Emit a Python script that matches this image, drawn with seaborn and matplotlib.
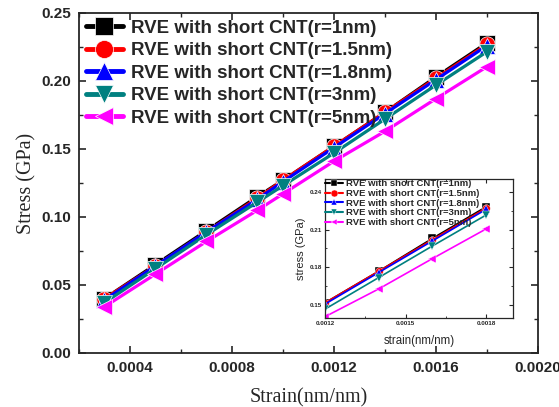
import numpy as np
import pandas as pd
import seaborn as sns
import matplotlib
matplotlib.use("Agg")
import matplotlib.pyplot as plt
from matplotlib.ticker import FixedLocator

# %% data
strain = [0.0003, 0.0005, 0.0007, 0.0009, 0.0010, 0.0012, 0.0014, 0.0016, 0.0018]
labels = ["RVE with short CNT(r=1nm)", "RVE with short CNT(r=1.5nm)",
          "RVE with short CNT(r=1.8nm)", "RVE with short CNT(r=3nm)",
          "RVE with short CNT(r=5nm)"]
stress_r1 = [0.040, 0.065, 0.090, 0.115, 0.127, 0.152, 0.177, 0.203, 0.228]
stress_r15 = [0.040, 0.064, 0.089, 0.114, 0.127, 0.152, 0.177, 0.202, 0.227]
stress_r18 = [0.039, 0.064, 0.089, 0.113, 0.126, 0.151, 0.176, 0.201, 0.226]
stress_r3 = [0.037, 0.062, 0.087, 0.111, 0.123, 0.147, 0.172, 0.197, 0.2215]
stress_r5 = [0.034, 0.058, 0.082, 0.105, 0.117, 0.141, 0.163, 0.187, 0.2105]

colors = ["#000000", "#FF0000", "#0000FF", "#008080", "#FF00FF"]
marks = ["s", "o", "^", "v", "<"]

# tick positions / labels
x_major = [0.0004, 0.0008, 0.0012, 0.0016, 0.0020]
x_minor = [0.0002, 0.0006, 0.0010, 0.0014, 0.0018]
y_major = [0.00, 0.05, 0.10, 0.15, 0.20, 0.25]
y_minor = [0.025, 0.075, 0.125, 0.175, 0.225]
ix_major = [0.0012, 0.0015, 0.0018]
ix_minor = [0.00135, 0.00165]
iy_major = [0.15, 0.18, 0.21, 0.24]
iy_minor = [0.165, 0.195, 0.225]

# long table for seaborn
all_stress = [stress_r1, stress_r15, stress_r18, stress_r3, stress_r5]
df = pd.concat([pd.DataFrame({"strain": strain, "stress": s, "model": lab})
                for s, lab in zip(all_stress, labels)], ignore_index=True)

# %% styling
sns.set_theme(style="ticks")
plt.rcParams['font.family'] = ['Liberation Sans', 'DejaVu Sans']
plt.rcParams['xtick.direction'] = 'in'
plt.rcParams['ytick.direction'] = 'in'

fig = plt.figure(figsize=(5.59, 4.07), dpi=100)
ax = fig.add_axes([0.1413, 0.1327, 0.821, 0.8354])

pal = dict(zip(labels, colors))
mk = dict(zip(labels, marks))

sns.lineplot(data=df, x="strain", y="stress", hue="model", style="model",
             palette=pal, markers=mk, dashes=False, markersize=11,
             linewidth=2.3, markeredgewidth=0.5, ax=ax, legend=True)

ax.set_xlim(0.0002, 0.0020)
ax.set_ylim(0.0, 0.25)
ax.xaxis.set_major_locator(FixedLocator(x_major))
ax.xaxis.set_minor_locator(FixedLocator(x_minor))
ax.yaxis.set_major_locator(FixedLocator(y_major))
ax.yaxis.set_minor_locator(FixedLocator(y_minor))
ax.set_xticklabels([f"{v:.4f}" for v in x_major])
ax.set_yticklabels([f"{v:.2f}" for v in y_major])
ax.tick_params(which='both', top=True, right=True, labeltop=False, labelright=False)
ax.tick_params(which='major', length=5, width=1.2, pad=6)
ax.tick_params(which='minor', length=3, width=1.0)
for t in ax.get_xticklabels() + ax.get_yticklabels():
    t.set_fontweight('bold')
    t.set_fontsize(11)
for sp in ax.spines.values():
    sp.set_linewidth(1.3)

ax.set_xlabel("Strain(nm/nm)", family=['Liberation Serif'], fontsize=14.5, labelpad=9)
ax.set_ylabel("Stress (GPa)", family=['Liberation Serif'], fontsize=14.5, labelpad=3)

leg = ax.legend(loc='upper left', frameon=False, prop={'weight': 'bold', 'size': 13.5},
                handlelength=2.0, labelspacing=0.29, borderaxespad=0.0,
                handletextpad=0.4, borderpad=0.35)
for h in leg.legend_handles:
    h.set_linewidth(3.5)
    h.set_markersize(13)

# %% inset zoom
ins = fig.add_axes([0.5814, 0.2187, 0.3363, 0.3415])
sub = df[df["strain"] >= 0.0012]
sns.lineplot(data=sub, x="strain", y="stress", hue="model", style="model",
             palette=pal, markers=mk, dashes=False, markersize=5.5,
             linewidth=1.2, markeredgewidth=0.3, ax=ins, legend=True)
ins.set_xlim(0.0012, 0.0019)
ins.set_ylim(0.14, 0.25)
ins.xaxis.set_major_locator(FixedLocator(ix_major))
ins.xaxis.set_minor_locator(FixedLocator(ix_minor))
ins.yaxis.set_major_locator(FixedLocator(iy_major))
ins.yaxis.set_minor_locator(FixedLocator(iy_minor))
ins.set_xticklabels([f"{v:.4f}" for v in ix_major])
ins.set_yticklabels([f"{v:.2f}" for v in iy_major])
ins.tick_params(which='both', top=True, right=True, labelsize=4.5, pad=2)
ins.tick_params(which='major', length=3, width=0.8)
ins.tick_params(which='minor', length=1.5, width=0.6)
for t in ins.get_xticklabels() + ins.get_yticklabels():
    t.set_fontweight('bold')
for sp in ins.spines.values():
    sp.set_linewidth(0.9)
ins.set_xlabel("strain(nm/nm)", fontsize=8.3, labelpad=7)
ins.set_ylabel("stress (GPa)", fontsize=8, labelpad=3)
ileg = ins.legend(loc='upper left', frameon=False, prop={'weight': 'bold', 'size': 6.8},
                  handlelength=1.9, labelspacing=0.07, borderaxespad=0.05,
                  handletextpad=0.25, borderpad=0.0)
for h in ileg.legend_handles:
    h.set_linewidth(1.5)
    h.set_markersize(5)

fig.savefig("out.png", dpi=100)
